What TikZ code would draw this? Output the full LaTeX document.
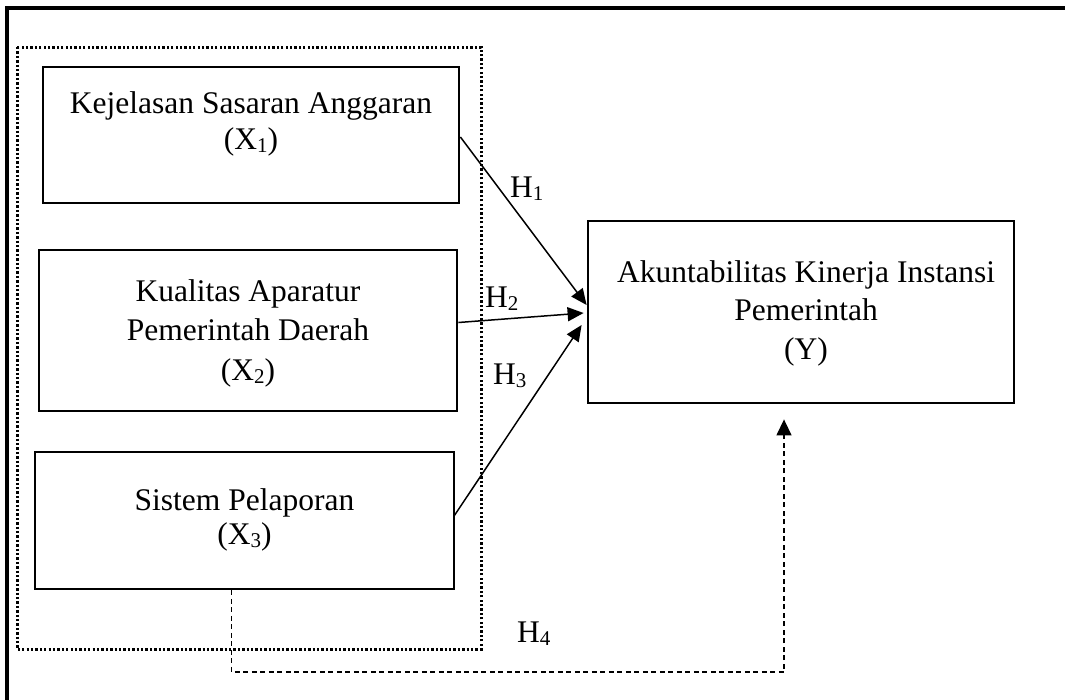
\documentclass[tikz,border=0pt]{standalone}
\usepackage{fontspec}
\setmainfont{Liberation Serif}
\usetikzlibrary{arrows.meta,calc}
\newcommand\mysub[1]{\raisebox{-3pt}{\fontsize{21}{21}\selectfont #1}}
\begin{document}
\begin{tikzpicture}[x=1pt,y=-1pt,
  box/.style={draw,line width=2.8pt,rectangle,inner sep=0pt},
  txt/.style={align=center,inner sep=0pt},
  hl/.style={inner sep=0pt,anchor=base west,font=\fontsize{31.5}{38}\selectfont},
  arr/.style={line width=1.5pt,-{Triangle[length=16pt,width=14pt]}},
  dashfour/.style={line width=1.4pt,dash pattern=on 5pt off 3.5pt,-{Triangle[length=16pt,width=15pt]}},
  dotbox/.style={line width=3pt,dash pattern=on 2.3pt off 2.1pt}]
\useasboundingbox (0,0) rectangle (1065,699);
% outer frame (top and left sides visible)
\draw[line width=3.3pt] (7,700) -- (7,8) -- (1066,8);
% dotted group box
\draw[dotbox] (17,47) rectangle (481,649);
% boxes
\node[box,minimum width=416pt,minimum height=136pt] (x1) at (251,135) {};
\node[box,minimum width=418pt,minimum height=161pt] (x2) at (248,330.5) {};
\node[box,minimum width=419pt,minimum height=137pt] (x3) at (244.5,520.5) {};
\node[box,minimum width=426pt,minimum height=182pt] (y) at (801,312) {};
% texts
\node[txt,font=\fontsize{31.5}{36}\selectfont] (t1) at (251,124) {Kejelasan Sasaran Anggaran\\(X\mysub{1})};
\node[txt,font=\fontsize{31.5}{39.5}\selectfont] (t2) at (248,333) {Kualitas Aparatur\\Pemerintah Daerah\\(X\mysub{2})};
\node[txt,font=\fontsize{31.5}{34}\selectfont] (t3) at (244.5,520) {Sistem Pelaporan\\(X\mysub{3})};
\node[txt,font=\fontsize{31.5}{38.5}\selectfont] (ty) at (806,313) {Akuntabilitas Kinerja Instansi\\Pemerintah\\(Y)};
% arrows
\draw[arr] ($(x1.east)+(0,2)$) -- ($(y.west)+(0,-7)$);
\draw[arr] ($(x2.east)+(0,-8)$) -- ($(y.west)+(-3,1)$);
\draw[arr] ($(x3.east)+(-1,-5)$) -- ($(y.west)+(-5,13)$);
\coordinate (d0) at ($(x3.south)+(-13,0)$);
\coordinate (d1) at (231.5,672);
\coordinate (d2) at ($(y.south)+(-17,15)$);
\draw[dashfour] (d0) -- (d1) -| (d2);
% hypothesis labels
\node[hl] (h1) at (510,197) {H\mysub{1}};
\node[hl] (h2) at (485,307) {H\mysub{2}};
\node[hl] (h3) at (493,384) {H\mysub{3}};
\node[hl] (h4) at (517,642) {H\mysub{4}};
\end{tikzpicture}
\end{document}
